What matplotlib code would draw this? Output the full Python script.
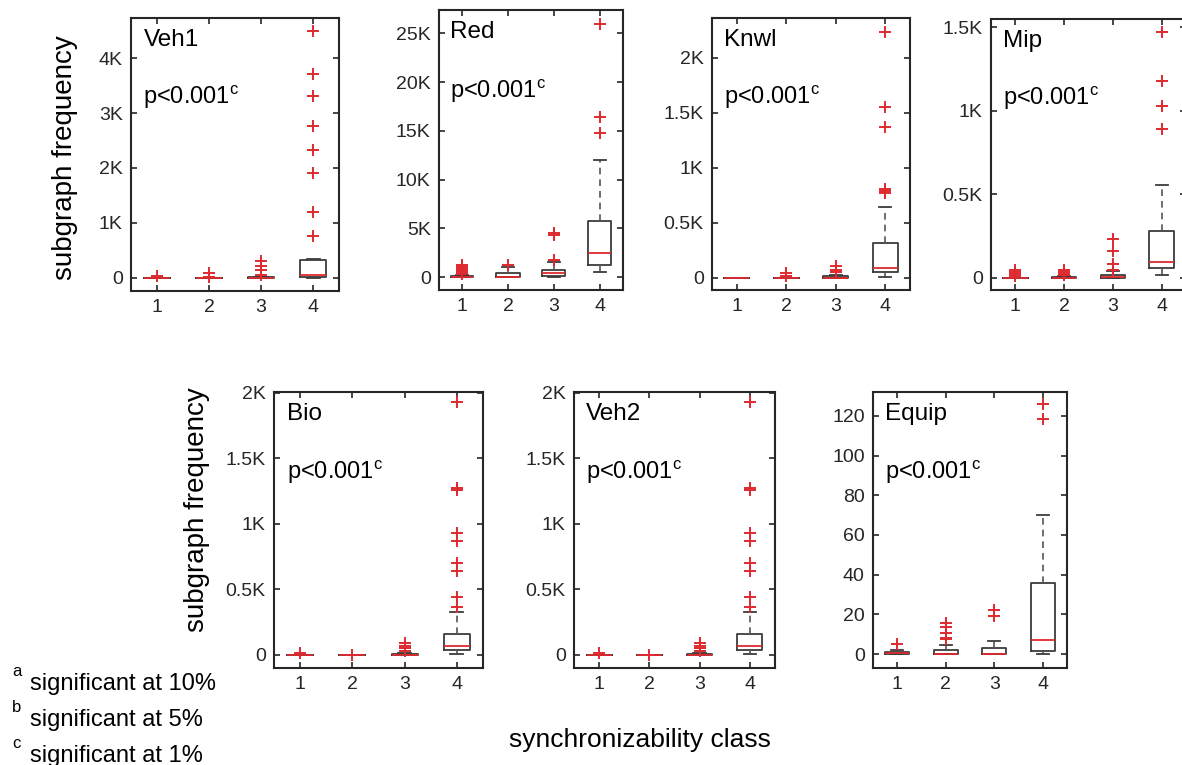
import matplotlib as mpl
mpl.use('Agg')
import matplotlib.pyplot as plt

plt.rcParams['font.family'] = ['Liberation Sans', 'DejaVu Sans']

# box statistics per panel, classes 1..4
names = ['Veh1', 'Red', 'Knwl', 'Mip', 'Bio', 'Veh2', 'Equip']
classes = ['1', '2', '3', '4']

veh1_q1 = [0, 0, 0, 20]
veh1_med = [0, 0, 0, 60]
veh1_q3 = [0, 0, 10, 320]
veh1_lo = [0, 0, 0, 0]
veh1_hi = [0, 0, 20, 340]
veh1_out = [[25], [10, 90], [60, 150, 210, 300], [760, 1200, 1910, 2330, 2770, 3315, 3715, 4485]]

red_q1 = [0, 0, 100, 1250]
red_med = [0, 0, 410, 2470]
red_q3 = [100, 410, 750, 5750]
red_lo = [0, 0, 0, 510]
red_hi = [200, 1030, 1540, 11990]
red_out = [[300, 450, 600, 750, 900, 1050, 1200], [1200], [1780, 4350, 4550], [14730, 16370, 25960]]

knwl_q1 = [0, 0, 0, 55]
knwl_med = [0, 0, 0, 90]
knwl_q3 = [0, 0, 20, 315]
knwl_lo = [0, 0, 0, 6]
knwl_hi = [0, 0, 30, 643]
knwl_out = [[], [15, 40], [50, 70, 105], [770, 790, 810, 1372, 1555, 2235]]

mip_q1 = [0, 0, 0, 60]
mip_med = [0, 0, 5, 95]
mip_q3 = [0, 5, 20, 280]
mip_lo = [0, 0, 0, 15]
mip_hi = [0, 10, 40, 555]
mip_out = [[10, 22, 36, 50], [15, 25, 35, 46], [50, 86, 160, 235], [892, 1026, 1175, 1470]]

bio_q1 = [0, 0, 0, 40]
bio_med = [0, 0, 0, 70]
bio_q3 = [0, 0, 8, 160]
bio_lo = [0, 0, 0, 8]
bio_hi = [0, 0, 15, 324]
bio_out = [[13], [0], [30, 50, 70, 90], [362, 439, 638, 702, 867, 931, 1258, 1276, 1926]]

veh2_q1 = [0, 0, 0, 40]
veh2_med = [0, 0, 0, 70]
veh2_q3 = [0, 0, 8, 160]
veh2_lo = [0, 0, 0, 8]
veh2_hi = [0, 0, 15, 324]
veh2_out = [[13], [0], [30, 50, 70, 90], [362, 439, 638, 702, 867, 931, 1258, 1276, 1926]]

equip_q1 = [0, 0, 0, 1.7]
equip_med = [0.5, 0, 0, 7]
equip_q3 = [1, 2, 3.2, 36]
equip_lo = [0, 0, 0, 0]
equip_hi = [2, 4.5, 6.7, 70]
equip_out = [[5], [7.4, 7.9, 10.4, 13.4, 15.5], [19, 22], [118.5, 126]]

p_text = 'p<0.001'
p_sup = 'c'

ytick_vals = [
    [0, 1000, 2000, 3000, 4000],
    [0, 5000, 10000, 15000, 20000, 25000],
    [0, 500, 1000, 1500, 2000],
    [0, 500, 1000, 1500],
    [0, 500, 1000, 1500, 2000],
    [0, 500, 1000, 1500, 2000],
    [0, 20, 40, 60, 80, 100, 120],
]
ytick_labels = [
    ['0', '1K', '2K', '3K', '4K'],
    ['0', '5K', '10K', '15K', '20K', '25K'],
    ['0', '0.5K', '1K', '1.5K', '2K'],
    ['0', '0.5K', '1K', '1.5K'],
    ['0', '0.5K', '1K', '1.5K', '2K'],
    ['0', '0.5K', '1K', '1.5K', '2K'],
    ['0', '20', '40', '60', '80', '100', '120'],
]
ylims = [(-240, 4730), (-1330, 27400), (-110, 2360), (-72, 1548),
         (-100, 2005), (-100, 2005), (-7, 132)]

footnotes = [('a', 'significant at 10%'), ('b', 'significant at 5%'), ('c', 'significant at 1%')]

panels = [
    (veh1_q1, veh1_med, veh1_q3, veh1_lo, veh1_hi, veh1_out),
    (red_q1, red_med, red_q3, red_lo, red_hi, red_out),
    (knwl_q1, knwl_med, knwl_q3, knwl_lo, knwl_hi, knwl_out),
    (mip_q1, mip_med, mip_q3, mip_lo, mip_hi, mip_out),
    (bio_q1, bio_med, bio_q3, bio_lo, bio_hi, bio_out),
    (veh2_q1, veh2_med, veh2_q3, veh2_lo, veh2_hi, veh2_out),
    (equip_q1, equip_med, equip_q3, equip_lo, equip_hi, equip_out),
]

W, H = 1182, 765
# axes rectangles in pixels: left, top, right, bottom
rects = [(131, 18, 339, 291), (439, 10, 623, 290), (712, 18, 910, 290), (991, 19, 1186, 290),
         (274, 392, 483, 668), (574, 392, 775, 668), (873, 392, 1067, 668)]

fig = plt.figure(figsize=(W / 100, H / 100), dpi=100)

gray = '#3c3c3c'
red = '#dd2a2f'

for i, (q1, med, q3, lo, hi, out) in enumerate(panels):
    l, t, r, b = rects[i]
    ax = fig.add_axes([l / W, (H - b) / H, (r - l) / W, (b - t) / H])
    stats = []
    for k in range(4):
        stats.append(dict(q1=q1[k], med=med[k], q3=q3[k], whislo=lo[k], whishi=hi[k],
                          fliers=out[k], label=classes[k]))
    ax.bxp(stats, positions=[1, 2, 3, 4], widths=0.5, showfliers=True,
           boxprops=dict(color=gray, linewidth=1.3),
           medianprops=dict(color=red, linewidth=1.3),
           whiskerprops=dict(color='#555555', linewidth=1.2, linestyle=(0, (4, 3))),
           capprops=dict(color=gray, linewidth=1.3),
           flierprops=dict(marker='+', markeredgecolor=red, markersize=9, markeredgewidth=1.4,
                           linestyle='none'))
    ax.set_xlim(0.5, 4.5)
    ax.set_ylim(*ylims[i])
    ax.set_yticks(ytick_vals[i])
    ax.set_yticklabels(ytick_labels[i])
    ax.tick_params(direction='in', length=4, width=1.2, top=True, right=True,
                   labelsize=14, colors='#262626', pad=6)
    for s in ax.spines.values():
        s.set_linewidth(1.5)
        s.set_color('#262626')
    ax.text(0.06, 0.92, names[i], transform=ax.transAxes, fontsize=17.5, va='center', ha='left')
    ax.text(0.06, 0.71, p_text + r'$^{\mathregular{' + p_sup + '}}$', transform=ax.transAxes,
            fontsize=17, va='center', ha='left')

fig.text(65 / W, 1 - 158 / H, 'subgraph frequency', rotation=90, fontsize=20, ha='center', va='center')
fig.text(197 / W, 1 - 510 / H, 'subgraph frequency', rotation=90, fontsize=20, ha='center', va='center')
fig.text(640 / W, 1 - 740 / H, 'synchronizability class', fontsize=19, ha='center', va='center')

for j, (sup, txt) in enumerate(footnotes):
    yc = 684 + j * 36
    fig.text(12 / W, 1 - (yc - 12) / H, sup, fontsize=12, ha='left', va='center')
    fig.text(30 / W, 1 - yc / H, txt, fontsize=17, ha='left', va='center')

fig.savefig('out.png', dpi=100)
